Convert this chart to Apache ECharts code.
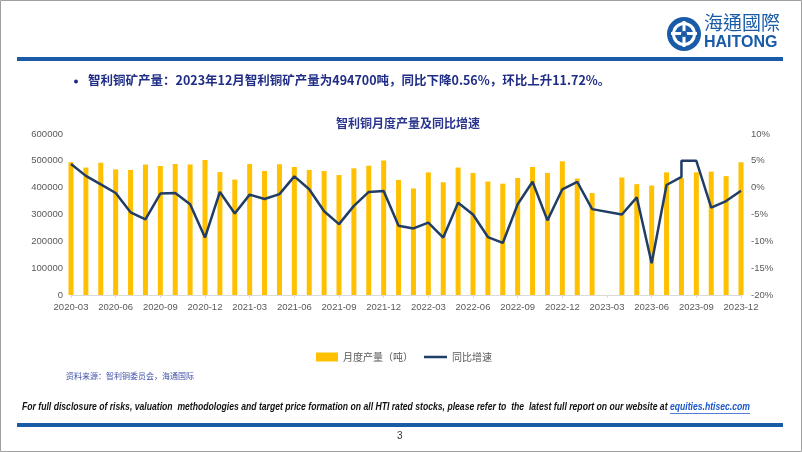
<!DOCTYPE html>
<html>
<head>
<meta charset="utf-8">
<script src="https://cdn.jsdelivr.net/npm/echarts@6/dist/echarts.min.js"></script>
<style>
html,body{margin:0;padding:0;background:#fff;}
#c{width:802px;height:452px;}
</style>
</head>
<body>
<div id="c"></div>
<script>
// ---- data ----
const months = [
 '2020-03','2020-04','2020-05','2020-06','2020-07','2020-08','2020-09','2020-10','2020-11','2020-12',
 '2021-01','2021-02','2021-03','2021-04','2021-05','2021-06','2021-07','2021-08','2021-09','2021-10','2021-11','2021-12',
 '2022-01','2022-02','2022-03','2022-04','2022-05','2022-06','2022-07','2022-08','2022-09','2022-10','2022-11','2022-12',
 '2023-01','2023-02','2023-03','2023-04','2023-05','2023-06','2023-07','2023-08','2023-09','2023-10','2023-11','2023-12'
];
const production = [
 495000,475000,493000,468000,466000,486000,481000,488000,486000,503000,
 458000,430000,488000,462000,487000,477000,466000,462000,447000,472000,482000,501000,
 429000,397000,457000,420000,475000,455000,423000,415000,436000,477000,455000,498000,
 434000,380000,null,438000,413000,408000,457000,436000,457000,460000,443000,494700
];
const yoy = [
 4.4,2.2,0.6,-1.0,-4.6,-5.9,-1.1,-1.0,-3.1,-9.3,
 -0.8,-4.8,-1.3,-2.1,-1.2,2.1,-0.3,-4.4,-6.8,-3.4,-0.8,-0.6,
 -7.1,-7.6,-6.5,-9.3,-2.8,-5.0,-9.2,-10.3,-3.1,1.1,-6.1,-0.3,
 1.1,-4.0,null,-5.0,-1.8,-14.1,0.5,2.0,5.0,-3.7,-2.5,-0.56
];
// in the reference the line rises vertically at 2023-08 up to 5%
const yoyStepMonth = '2023-08';
const yoyStepValue = 5.0;

const leftTicks = {min:0, max:600000, interval:100000};
const rightTicks = {min:-20, max:10, interval:5};

const titleText = '智利铜月度产量及同比增速';
const barName = '月度产量（吨）';
const lineName = '同比增速';
const headline = '智利铜矿产量：2023年12月智利铜矿产量为494700吨，同比下降0.56%，环比上升11.72%。';
const sourceText = '资料来源：智利铜委员会，海通国际';
const footerText = 'For full disclosure of risks, valuation  methodologies and target price formation on all HTI rated stocks, please refer to  the  latest full report on our website at ';
const footerLink = 'equities.htisec.com';

// build line points (category index, value), skipping gaps
const linePoints = [];
months.forEach((m, i) => {
  if (yoy[i] === null) return;
  linePoints.push([i, yoy[i]]);
  if (m === yoyStepMonth) linePoints.push([i, yoyStepValue]);
});

// footer text fitting (layout only)
const footerFont = 'italic bold 10px "Liberation Sans", sans-serif';
const mctx = document.createElement('canvas').getContext('2d');
mctx.font = footerFont;
const wMain = mctx.measureText(footerText).width;
const wLink = mctx.measureText(footerLink).width;
const footerScale = 728 / (wMain + wLink);

const BLUE = '#1A5BA8';
const NAVY = '#1F3D66';
const chart = echarts.init(document.getElementById('c'), null, {renderer:'canvas'});
const cjk = '"Noto Sans CJK SC", sans-serif';
chart.setOption({
  animation:false,
  backgroundColor:'#fff',
  title:{
    text:titleText, left:403, top:112, textAlign:'center',
    textStyle:{fontFamily:cjk, fontSize:12, fontWeight:'bold', color:'#2B3590'}
  },
  grid:{left:71, right:61, top:134, bottom:157, containLabel:false},
  legend:[
    {data:[{name:barName, icon:'rect'}], left:311, top:347, itemWidth:22, itemHeight:9,
     textStyle:{fontFamily:cjk, fontSize:10, color:'#595959'}},
    {data:[{name:lineName, icon:'rect'}], left:419, top:347, itemWidth:23, itemHeight:2.5,
     textStyle:{fontFamily:cjk, fontSize:10, color:'#595959'}}
  ],
  xAxis:{
    type:'category', data:months, boundaryGap:false,
    axisLine:{lineStyle:{color:'#D9D9D9', width:1}},
    axisTick:{show:true, alignWithLabel:true, length:3, lineStyle:{color:'#D9D9D9'}},
    axisLabel:{interval:2, color:'#595959', fontSize:9.5, fontFamily:'"Liberation Sans", sans-serif', margin:7}
  },
  yAxis:[
    {type:'value', min:leftTicks.min, max:leftTicks.max, interval:leftTicks.interval,
     splitLine:{show:false}, axisLine:{show:false}, axisTick:{show:false},
     axisLabel:{formatter:v => String(v), color:'#595959', fontSize:9.5, fontFamily:'"Liberation Sans", sans-serif', margin:8}},
    {type:'value', min:rightTicks.min, max:rightTicks.max, interval:rightTicks.interval,
     splitLine:{show:false}, axisLine:{show:false}, axisTick:{show:false},
     axisLabel:{formatter:'{value}%', color:'#595959', fontSize:9.5, fontFamily:'"Liberation Sans", sans-serif', margin:10}}
  ],
  series:[
    {name:barName, type:'bar', data:production, yAxisIndex:0, barWidth:5,
     itemStyle:{color:'#FFC000'}},
    {name:lineName, type:'line', data:linePoints, yAxisIndex:1, symbol:'none',
     lineStyle:{color:NAVY, width:2.5}, itemStyle:{color:NAVY}, z:5}
  ],
  graphic:[
    {type:'rect', shape:{x:0.5, y:0.5, width:801, height:451}, style:{fill:null, stroke:'#A0A0A0', lineWidth:1}, silent:true},
    // header band
    {type:'rect', shape:{x:17, y:57, width:766, height:4}, style:{fill:BLUE}},
    // headline bullet
    {type:'circle', shape:{cx:76, cy:81.5, r:2}, style:{fill:'#1F2D86'}},
    {type:'text', left:88, top:74, style:{text:headline, fill:'#1F2D86', font:'bold 12.5px "Noto Sans CJK SC"'}},
    // logo
    {type:'circle', shape:{cx:684, cy:34, r:17}, style:{fill:BLUE}},
    {type:'circle', shape:{cx:684, cy:34, r:12}, style:{fill:'#fff'}},
    {type:'circle', shape:{cx:684, cy:34, r:9}, style:{fill:BLUE}},
    {type:'rect', shape:{x:671, y:32, width:26, height:3}, style:{fill:'#fff'}},
    {type:'rect', shape:{x:682.5, y:21, width:3, height:26}, style:{fill:'#fff'}},
    {type:'circle', shape:{cx:684, cy:34, r:3}, style:{fill:BLUE}},
    {type:'text', left:704, top:13, style:{text:'海通國際', fill:BLUE, font:'19px "Noto Sans CJK TC"'}},
    {type:'text', left:704, top:35, style:{text:'HAITONG', fill:BLUE, font:'bold 16px "Liberation Sans"'}},
    // source
    {type:'text', left:66, top:372, style:{text:sourceText, fill:'#3F4FA8', font:'8px "Noto Sans CJK SC"'}},
    // footer
    {type:'group', x:22, y:402, scaleX:footerScale, children:[
      {type:'text', x:0, y:0, style:{text:footerText, fill:'#111', font:footerFont}},
      {type:'text', x:wMain, y:0, style:{text:footerLink, fill:'#1A56C8', font:footerFont}},
      {type:'rect', shape:{x:wMain, y:11, width:wLink, height:0.8}, style:{fill:'#1A56C8'}}
    ]},
    {type:'rect', shape:{x:17, y:423, width:766, height:4}, style:{fill:BLUE}},
    {type:'text', left:397, top:431, style:{text:'3', fill:'#333', font:'10px "Liberation Sans"'}}
  ]
});
</script>
</body>
</html>
